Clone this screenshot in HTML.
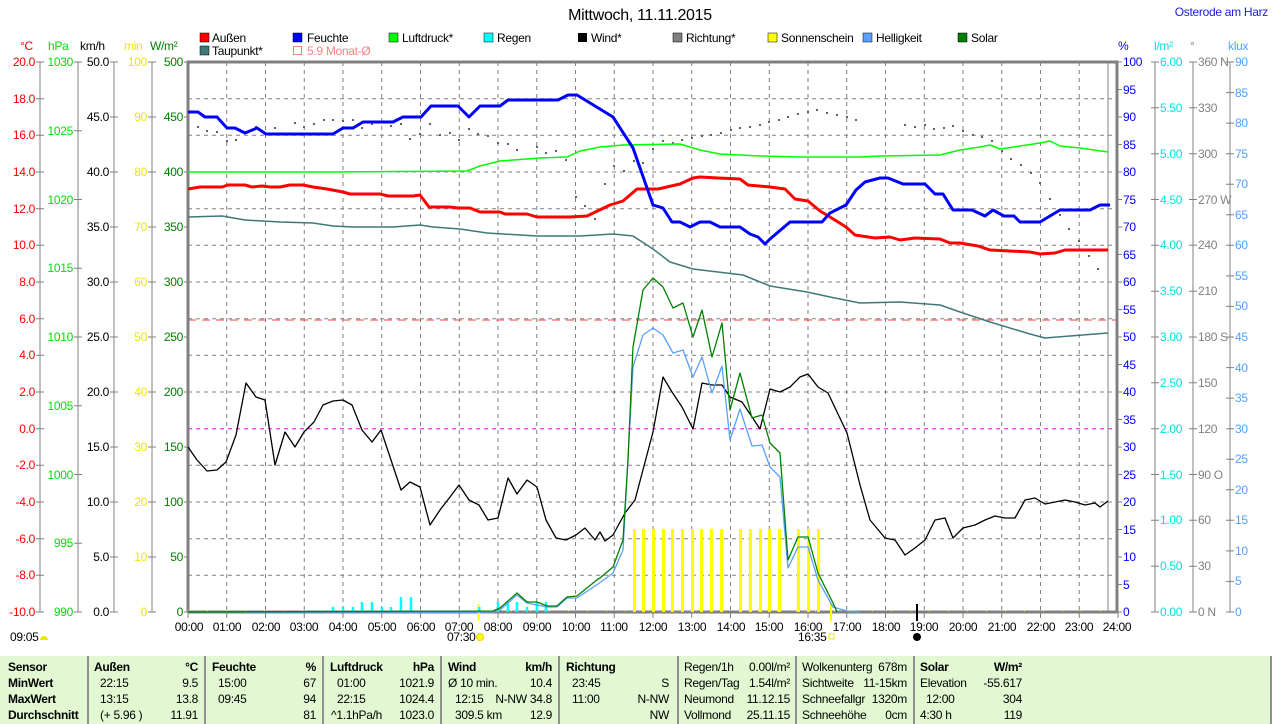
<!DOCTYPE html>
<html><head><meta charset="utf-8"><style>
html,body{margin:0;padding:0;background:#fff;}
body{width:1274px;height:724px;overflow:hidden;position:relative;font-family:"Liberation Sans",sans-serif;}
svg{position:absolute;left:0;top:0;}
svg text{letter-spacing:-0.3px;}
</style></head><body>
<svg width="1274" height="724" viewBox="0 0 1274 724" font-family="Liberation Sans, sans-serif" font-size="12">
<text x="640" y="20" font-size="16" text-anchor="middle" fill="#000">Mittwoch, 11.11.2015</text>
<text x="1268" y="16" font-size="12" text-anchor="end" fill="#2020e0">Osterode am Harz</text>
<g font-size="12" fill="#000">
<rect x="200" y="33" width="9" height="9" fill="#ff0000" stroke="#000" stroke-width="0.5"/><text x="212" y="42">Außen</text>
<rect x="293" y="33" width="9" height="9" fill="#0000ff" stroke="#000" stroke-width="0.5"/><text x="307" y="42">Feuchte</text>
<rect x="389" y="33" width="9" height="9" fill="#00ff00" stroke="#000" stroke-width="0.5"/><text x="402" y="42">Luftdruck*</text>
<rect x="484" y="33" width="9" height="9" fill="#00ffff" stroke="#000" stroke-width="0.5"/><text x="497" y="42">Regen</text>
<rect x="578" y="33" width="9" height="9" fill="#000"/><text x="591" y="42">Wind*</text>
<rect x="673" y="33" width="9" height="9" fill="#808080" stroke="#000" stroke-width="0.5"/><text x="686" y="42">Richtung*</text>
<rect x="768" y="33" width="9" height="9" fill="#ffff00" stroke="#000" stroke-width="0.5"/><text x="781" y="42">Sonnenschein</text>
<rect x="863" y="33" width="9" height="9" fill="#5aa0ff" stroke="#000" stroke-width="0.5"/><text x="876" y="42">Helligkeit</text>
<rect x="958" y="33" width="9" height="9" fill="#008000" stroke="#000" stroke-width="0.5"/><text x="971" y="42">Solar</text>
<rect x="200" y="46" width="9" height="9" fill="#407878" stroke="#000" stroke-width="0.5"/><text x="212" y="55">Taupunkt*</text>
<rect x="293.5" y="46.5" width="8" height="8" fill="none" stroke="#ff8080"/><text x="307" y="55" fill="#ff8080">5.9 Monat-Ø</text>
</g>
<g font-size="12">
<text x="20" y="50" fill="#ff0000">°C</text>
<text x="48" y="50" fill="#00e000">hPa</text>
<text x="80" y="50" fill="#000">km/h</text>
<text x="124" y="50" fill="#e8e800">min</text>
<text x="150" y="50" fill="#008000">W/m²</text>
<text x="1118" y="50" fill="#0000ff">%</text>
<text x="1154" y="50" fill="#00e0e0">l/m²</text>
<text x="1190" y="50" fill="#808080">°</text>
<text x="1228" y="50" fill="#50a0ff">klux</text>
</g>
<g stroke="#808080" stroke-width="1" stroke-dasharray="4,4" fill="none">
<path d="M226.75 62V612M265.5 62V612M304.25 62V612M343 62V612M381.75 62V612M420.5 62V612M459.25 62V612M498 62V612M536.75 62V612M575.5 62V612M614.25 62V612M653 62V612M691.75 62V612M730.5 62V612M769.25 62V612M808 62V612M846.75 62V612M885.5 62V612M924.25 62V612M963 62V612M1001.75 62V612M1040.5 62V612M1079.25 62V612"/>
<path d="M188 98.7H1117M188 135.3H1117M188 172H1117M188 208.7H1117M188 245.3H1117M188 282H1117M188 318.7H1117M188 355.3H1117M188 392H1117M188 465.3H1117M188 502H1117M188 538.7H1117M188 575.3H1117"/>
</g>
<line x1="188" y1="428.7" x2="1117" y2="428.7" stroke="#ff00ff" stroke-dasharray="4,4"/>
<line x1="188" y1="320" x2="1117" y2="320" stroke="#ff6060" stroke-dasharray="8,6" stroke-width="1.3"/>
<line x1="1108" y1="62" x2="1108" y2="612" stroke="#808080"/>
<path d="M188 612V62H1117V612H188" fill="none" stroke="#808080" stroke-width="3"/>
<g stroke="#808080" fill="none">
<path d="M40 62V612M36 62H44M36 98.7H44M36 135.3H44M36 172H44M36 208.7H44M36 245.3H44M36 282H44M36 318.7H44M36 355.3H44M36 392H44M36 428.7H44M36 465.3H44M36 502H44M36 538.7H44M36 575.3H44M36 612H44"/>
<path d="M78 62V612M74 62H82M74 130.75H82M74 199.5H82M74 268.25H82M74 337H82M74 405.75H82M74 474.5H82M74 543.25H82M74 612H82"/>
<path d="M114 62V612M110 62H118M110 117H118M110 172H118M110 227H118M110 282H118M110 337H118M110 392H118M110 447H118M110 502H118M110 557H118M110 612H118"/>
<path d="M152 62V612M148 62H156M148 117H156M148 172H156M148 227H156M148 282H156M148 337H156M148 392H156M148 447H156M148 502H156M148 557H156M148 612H156"/>
<path d="M184 62H188M184 117H188M184 172H188M184 227H188M184 282H188M184 337H188M184 392H188M184 447H188M184 502H188M184 557H188M184 612H188"/>
</g>
<g text-anchor="end" fill="#ff0000">
<text x="35" y="66">20.0</text><text x="35" y="103">18.0</text><text x="35" y="139">16.0</text><text x="35" y="176">14.0</text><text x="35" y="213">12.0</text><text x="35" y="249">10.0</text><text x="35" y="286">8.0</text><text x="35" y="323">6.0</text><text x="35" y="359">4.0</text><text x="35" y="396">2.0</text><text x="35" y="433">0.0</text><text x="35" y="469">-2.0</text><text x="35" y="506">-4.0</text><text x="35" y="543">-6.0</text><text x="35" y="579">-8.0</text><text x="35" y="616">-10.0</text>
</g>
<g text-anchor="end" fill="#00e000">
<text x="73" y="66">1030</text><text x="73" y="135">1025</text><text x="73" y="204">1020</text><text x="73" y="272">1015</text><text x="73" y="341">1010</text><text x="73" y="410">1005</text><text x="73" y="479">1000</text><text x="73" y="547">995</text><text x="73" y="616">990</text>
</g>
<g text-anchor="end" fill="#000">
<text x="109" y="66">50.0</text><text x="109" y="121">45.0</text><text x="109" y="176">40.0</text><text x="109" y="231">35.0</text><text x="109" y="286">30.0</text><text x="109" y="341">25.0</text><text x="109" y="396">20.0</text><text x="109" y="451">15.0</text><text x="109" y="506">10.0</text><text x="109" y="561">5.0</text><text x="109" y="616">0.0</text>
</g>
<g text-anchor="end" fill="#e8e800">
<text x="147" y="66">100</text><text x="147" y="121">90</text><text x="147" y="176">80</text><text x="147" y="231">70</text><text x="147" y="286">60</text><text x="147" y="341">50</text><text x="147" y="396">40</text><text x="147" y="451">30</text><text x="147" y="506">20</text><text x="147" y="561">10</text><text x="147" y="616">0</text>
</g>
<g text-anchor="end" fill="#008000">
<text x="183" y="66">500</text><text x="183" y="121">450</text><text x="183" y="176">400</text><text x="183" y="231">350</text><text x="183" y="286">300</text><text x="183" y="341">250</text><text x="183" y="396">200</text><text x="183" y="451">150</text><text x="183" y="506">100</text><text x="183" y="561">50</text><text x="183" y="616">0</text>
</g>
<g stroke="#808080" fill="none">
<path d="M1117 62H1122M1117 89.5H1122M1117 117H1122M1117 144.5H1122M1117 172H1122M1117 199.5H1122M1117 227H1122M1117 254.5H1122M1117 282H1122M1117 309.5H1122M1117 337H1122M1117 364.5H1122M1117 392H1122M1117 419.5H1122M1117 447H1122M1117 474.5H1122M1117 502H1122M1117 529.5H1122M1117 557H1122M1117 584.5H1122M1117 612H1122"/>
<path d="M1155 62V612M1151 62H1159M1151 107.8H1159M1151 153.7H1159M1151 199.5H1159M1151 245.3H1159M1151 291.2H1159M1151 337H1159M1151 382.8H1159M1151 428.7H1159M1151 474.5H1159M1151 520.3H1159M1151 566.2H1159M1151 612H1159"/>
<path d="M1193 62V612M1189 62H1197M1189 107.8H1197M1189 153.7H1197M1189 199.5H1197M1189 245.3H1197M1189 291.2H1197M1189 337H1197M1189 382.8H1197M1189 428.7H1197M1189 474.5H1197M1189 520.3H1197M1189 566.2H1197M1189 612H1197"/>
<path d="M1230 62V612M1226 62H1234M1226 92.6H1234M1226 123.1H1234M1226 153.7H1234M1226 184.2H1234M1226 214.8H1234M1226 245.3H1234M1226 275.9H1234M1226 306.4H1234M1226 337H1234M1226 367.6H1234M1226 398.1H1234M1226 428.7H1234M1226 459.2H1234M1226 489.8H1234M1226 520.3H1234M1226 550.9H1234M1226 581.4H1234M1226 612H1234"/>
</g>
<g fill="#0000ff">
<text x="1123" y="66">100</text><text x="1123" y="94">95</text><text x="1123" y="121">90</text><text x="1123" y="149">85</text><text x="1123" y="176">80</text><text x="1123" y="204">75</text><text x="1123" y="231">70</text><text x="1123" y="259">65</text><text x="1123" y="286">60</text><text x="1123" y="314">55</text><text x="1123" y="341">50</text><text x="1123" y="369">45</text><text x="1123" y="396">40</text><text x="1123" y="424">35</text><text x="1123" y="451">30</text><text x="1123" y="479">25</text><text x="1123" y="506">20</text><text x="1123" y="534">15</text><text x="1123" y="561">10</text><text x="1123" y="589">5</text><text x="1123" y="616">0</text>
</g>
<g fill="#00e0e0">
<text x="1160" y="66">6.00</text><text x="1160" y="112">5.50</text><text x="1160" y="158">5.00</text><text x="1160" y="204">4.50</text><text x="1160" y="249">4.00</text><text x="1160" y="295">3.50</text><text x="1160" y="341">3.00</text><text x="1160" y="387">2.50</text><text x="1160" y="433">2.00</text><text x="1160" y="479">1.50</text><text x="1160" y="524">1.00</text><text x="1160" y="570">0.50</text><text x="1160" y="616">0.00</text>
</g>
<g fill="#808080">
<text x="1198" y="66">360 N</text><text x="1198" y="112">330</text><text x="1198" y="158">300</text><text x="1198" y="204">270 W</text><text x="1198" y="249">240</text><text x="1198" y="295">210</text><text x="1198" y="341">180 S</text><text x="1198" y="387">150</text><text x="1198" y="433">120</text><text x="1198" y="479">90 O</text><text x="1198" y="524">60</text><text x="1198" y="570">30</text><text x="1198" y="616">0 N</text>
</g>
<g fill="#50a0ff">
<text x="1235" y="66">90</text><text x="1235" y="97">85</text><text x="1235" y="127">80</text><text x="1235" y="158">75</text><text x="1235" y="188">70</text><text x="1235" y="219">65</text><text x="1235" y="249">60</text><text x="1235" y="280">55</text><text x="1235" y="310">50</text><text x="1235" y="341">45</text><text x="1235" y="372">40</text><text x="1235" y="402">35</text><text x="1235" y="433">30</text><text x="1235" y="463">25</text><text x="1235" y="494">20</text><text x="1235" y="524">15</text><text x="1235" y="555">10</text><text x="1235" y="585">5</text><text x="1235" y="616">0</text>
</g>
<path d="M188 612V618M226.75 612V618M265.5 612V618M304.25 612V618M343 612V618M381.75 612V618M420.5 612V618M459.25 612V618M498 612V618M536.75 612V618M575.5 612V618M614.25 612V618M653 612V618M691.75 612V618M730.5 612V618M769.25 612V618M808 612V618M846.75 612V618M885.5 612V618M924.25 612V618M963 612V618M1001.75 612V618M1040.5 612V618M1079.25 612V618M1118 612V618" stroke="#808080"/>
<g text-anchor="middle" fill="#000">
<text x="189" y="631">00:00</text><text x="227" y="631">01:00</text><text x="266" y="631">02:00</text><text x="304" y="631">03:00</text><text x="343" y="631">04:00</text><text x="382" y="631">05:00</text><text x="421" y="631">06:00</text><text x="459" y="631">07:00</text><text x="498" y="631">08:00</text><text x="537" y="631">09:00</text><text x="576" y="631">10:00</text><text x="614" y="631">11:00</text><text x="653" y="631">12:00</text><text x="692" y="631">13:00</text><text x="731" y="631">14:00</text><text x="769" y="631">15:00</text><text x="808" y="631">16:00</text><text x="847" y="631">17:00</text><text x="886" y="631">18:00</text><text x="924" y="631">19:00</text><text x="963" y="631">20:00</text><text x="1002" y="631">21:00</text><text x="1041" y="631">22:00</text><text x="1079" y="631">23:00</text><text x="1117" y="631">24:00</text>
</g>
<text x="10" y="641">09:05</text>
<path d="M40 640a4 4 0 0 1 8 0z" fill="#e8e800"/>
<text x="447" y="641">07:30</text>
<circle cx="480" cy="637" r="3.5" fill="#ffff00" stroke="#f0d000"/>
<text x="798" y="641">16:35</text>
<rect x="829" y="634" width="5" height="5" fill="none" stroke="#e8e800"/>
<circle cx="917" cy="637" r="4" fill="#000"/>
<line x1="478.6" y1="604" x2="478.6" y2="621" stroke="#ffff00" stroke-width="2"/>
<line x1="831" y1="604" x2="831" y2="621" stroke="#ffff00" stroke-width="2"/>
<line x1="917" y1="604" x2="917" y2="621" stroke="#000" stroke-width="2"/>
<line x1="188" y1="611" x2="1108" y2="611" stroke="#e8e800" stroke-dasharray="1,18"/>
<g fill="#00ffff">
<rect x="331.7" y="607" width="2.5" height="5"/><rect x="341.7" y="607" width="2.5" height="5"/><rect x="351.7" y="607" width="2.5" height="5"/><rect x="360.7" y="602" width="2.5" height="10"/><rect x="370.7" y="602" width="2.5" height="10"/><rect x="380.7" y="607" width="2.5" height="5"/><rect x="389.7" y="607" width="2.5" height="5"/><rect x="399.7" y="597" width="2.5" height="15"/><rect x="409.7" y="597" width="2.5" height="15"/><rect x="478" y="607" width="2.5" height="5"/><rect x="496.7" y="602" width="2.5" height="10"/><rect x="506.7" y="602" width="2.5" height="10"/><rect x="515.7" y="602" width="2.5" height="10"/><rect x="525.7" y="607" width="2.5" height="5"/><rect x="535.7" y="602" width="2.5" height="10"/><rect x="544.7" y="602" width="2.5" height="10"/><rect x="662" y="607" width="2.5" height="5"/>
</g>
<g fill="#ffff00">
<rect x="633" y="529" width="3" height="83"/><rect x="642" y="529" width="3" height="83"/><rect x="652" y="529" width="3" height="83"/><rect x="662" y="529" width="3" height="83"/><rect x="671" y="529" width="3" height="83"/><rect x="681" y="529" width="3" height="83"/><rect x="691" y="529" width="3" height="83"/><rect x="700" y="529" width="3" height="83"/><rect x="710" y="529" width="3" height="83"/><rect x="720" y="529" width="3" height="83"/><rect x="739" y="529" width="3" height="83"/><rect x="749" y="529" width="3" height="83"/><rect x="759" y="529" width="3" height="83"/><rect x="768" y="529" width="3" height="83"/><rect x="778" y="529" width="3" height="83"/><rect x="797" y="529" width="3" height="83"/><rect x="807" y="529" width="3" height="83"/><rect x="817" y="529" width="3" height="83"/>
</g>
<g fill="#606060">
<rect x="197" y="126" width="2" height="2"/><rect x="206" y="130" width="2" height="2"/><rect x="216" y="131" width="2" height="2"/><rect x="226" y="140" width="2" height="2"/><rect x="235" y="139" width="2" height="2"/><rect x="245" y="131" width="2" height="2"/><rect x="255" y="126" width="2" height="2"/><rect x="274" y="127" width="2" height="2"/><rect x="294" y="122" width="2" height="2"/><rect x="303" y="126" width="2" height="2"/><rect x="313" y="123" width="2" height="2"/><rect x="323" y="119" width="2" height="2"/><rect x="332" y="119" width="2" height="2"/><rect x="342" y="120" width="2" height="2"/><rect x="352" y="119" width="2" height="2"/><rect x="361" y="127" width="2" height="2"/><rect x="371" y="123" width="2" height="2"/><rect x="381" y="121" width="2" height="2"/><rect x="390" y="125" width="2" height="2"/><rect x="400" y="123" width="2" height="2"/><rect x="409" y="138" width="2" height="2"/><rect x="419" y="133" width="2" height="2"/><rect x="429" y="123" width="2" height="2"/><rect x="439" y="134" width="2" height="2"/><rect x="449" y="132" width="2" height="2"/><rect x="458" y="139" width="2" height="2"/><rect x="468" y="128" width="2" height="2"/><rect x="477" y="133" width="2" height="2"/><rect x="487" y="135" width="2" height="2"/><rect x="497" y="142" width="2" height="2"/><rect x="507" y="143" width="2" height="2"/><rect x="516" y="149" width="2" height="2"/><rect x="536" y="146" width="2" height="2"/><rect x="545" y="152" width="2" height="2"/><rect x="555" y="150" width="2" height="2"/><rect x="565" y="159" width="2" height="2"/><rect x="575" y="196" width="2" height="2"/><rect x="584" y="205" width="2" height="2"/><rect x="594" y="218" width="2" height="2"/><rect x="604" y="183" width="2" height="2"/><rect x="613" y="165" width="2" height="2"/><rect x="623" y="170" width="2" height="2"/><rect x="633" y="160" width="2" height="2"/><rect x="642" y="162" width="2" height="2"/><rect x="652" y="148" width="2" height="2"/><rect x="662" y="140" width="2" height="2"/><rect x="672" y="142" width="2" height="2"/><rect x="681" y="139" width="2" height="2"/><rect x="691" y="137" width="2" height="2"/><rect x="701" y="135" width="2" height="2"/><rect x="710" y="134" width="2" height="2"/><rect x="720" y="132" width="2" height="2"/><rect x="730" y="129" width="2" height="2"/><rect x="739" y="127" width="2" height="2"/><rect x="749" y="126" width="2" height="2"/><rect x="759" y="124" width="2" height="2"/><rect x="768" y="121" width="2" height="2"/><rect x="778" y="119" width="2" height="2"/><rect x="787" y="116" width="2" height="2"/><rect x="797" y="113" width="2" height="2"/><rect x="807" y="111" width="2" height="2"/><rect x="816" y="109" width="2" height="2"/><rect x="826" y="112" width="2" height="2"/><rect x="836" y="114" width="2" height="2"/><rect x="846" y="116" width="2" height="2"/><rect x="855" y="119" width="2" height="2"/><rect x="904" y="124" width="2" height="2"/><rect x="914" y="126" width="2" height="2"/><rect x="924" y="124" width="2" height="2"/><rect x="933" y="128" width="2" height="2"/><rect x="943" y="127" width="2" height="2"/><rect x="952" y="125" width="2" height="2"/><rect x="962" y="130" width="2" height="2"/><rect x="972" y="134" width="2" height="2"/><rect x="981" y="136" width="2" height="2"/><rect x="991" y="140" width="2" height="2"/><rect x="1001" y="150" width="2" height="2"/><rect x="1010" y="158" width="2" height="2"/><rect x="1020" y="164" width="2" height="2"/><rect x="1030" y="172" width="2" height="2"/><rect x="1039" y="182" width="2" height="2"/><rect x="1049" y="198" width="2" height="2"/><rect x="1059" y="214" width="2" height="2"/><rect x="1068" y="228" width="2" height="2"/><rect x="1078" y="240" width="2" height="2"/><rect x="1088" y="255" width="2" height="2"/><rect x="1097" y="268" width="2" height="2"/>
</g>
<g fill="none" stroke-linejoin="round">
<polyline stroke="#407878" stroke-width="1.5" points="188,217 222,216 245,220 280,222 313,223 333,226 353,227 393,227 420,225 433,227 460,229 487,233 537,236 580,236 613,234 633,236 653,249 670,262 693,269 743,275 770,286 807,292 830,297 860,303 900,302 940,305 960,312 990,322 1030,334 1045,338 1070,336 1108,333"/>
<polyline stroke="#00ff00" stroke-width="1.5" points="188,172 327,172 467,171 480,166 500,161 540,158 567,157 580,151 600,147 623,145 680,144 700,150 720,154 760,156 800,157 860,157 880,156 940,155 960,150 980,147 990,145 1000,149 1040,143 1050,141 1060,146 1080,148 1108,152"/>
<polyline stroke="#ff0000" stroke-width="3" points="188,189 200,187 222,187 228,185 245,185 252,187 262,186 270,187 280,187 290,185 303,185 313,187 327,189 343,192 350,194 380,194 388,196 413,196 420,195 429,207 450,207 458,208 470,208 480,212 500,212 505,214 527,214 537,217 570,217 587,216 610,205 623,201 637,189 658,189 680,184 693,178 700,177 718,178 740,179 748,185 770,187 785,189 795,199 808,201 820,211 830,217 846,227 855,235 875,238 890,237 900,240 915,238 940,239 950,243 960,243 978,246 990,250 1030,252 1040,254 1055,253 1065,250 1108,250"/>
<polyline stroke="#0000ff" stroke-width="3" points="188,112 198,112 205,117 217,117 227,128 235,128 245,133 257,128 266,134 333,134 343,128 353,128 363,122 393,122 403,117 421,117 431,106 458,106 469,117 480,106 500,106 508,100 558,100 568,95 577,95 613,117 633,148 653,205 663,208 672,222 680,222 690,227 700,222 710,222 720,227 740,227 750,234 758,237 765,244 770,239 790,222 822,222 830,213 846,205 856,190 865,182 880,178 888,178 903,184 925,184 935,194 943,194 953,210 972,210 985,216 993,210 1004,216 1014,216 1020,222 1040,222 1060,210 1090,210 1100,205 1110,205"/>
<polyline stroke="#000" stroke-width="1.3" points="188,447 197,460 207,471 217,470 226,462 236,435 246,383 256,397 265,400 275,465 285,432 295,447 304,432 314,422 323,405 333,401 343,400 352,405 362,430 372,442 381,430 391,460 401,490 410,482 420,487 430,525 440,510 450,497 459,485 469,500 479,505 488,520 498,518 508,478 517,494 527,480 537,487 546,520 556,538 566,540 576,535 585,528 595,540 600,532 605,541 613,535 625,513 635,500 653,432 663,377 672,392 682,407 693,429 702,383 712,385 722,385 730,397 742,402 760,429 770,389 780,392 790,387 800,377 808,374 818,387 828,393 847,433 860,485 870,520 885,538 895,540 905,555 915,548 925,540 935,520 945,518 953,538 963,528 975,525 985,520 995,516 1005,518 1015,518 1025,500 1035,498 1045,504 1055,502 1065,500 1075,502 1085,505 1095,503 1100,507 1108,501"/>
<polyline stroke="#5aa0ff" stroke-width="1.3" points="188,612 492,612 500,610 517,595 527,603 547,607 557,607 567,598 577,598 598,584 613,573 623,550 633,367 643,335 653,328 663,335 673,353 683,350 693,377 702,357 712,393 722,366 730,440 740,409 752,446 762,445 770,467 780,477 788,568 798,547 808,547 818,580 833,607 847,611 860,612"/>
<polyline stroke="#008000" stroke-width="1.3" points="188,612 493,611 500,608 517,593 527,602 537,602 547,606 557,606 567,597 577,596 598,579 600,578 613,567 623,540 628,460 633,347 643,290 653,278 663,287 673,308 683,303 693,337 702,310 712,357 722,323 730,410 740,373 752,418 762,415 770,443 780,453 788,560 798,537 808,537 818,573 833,603 837,612"/>
</g>
<rect x="0" y="656" width="1271" height="68" fill="#e2f8d2"/>
<g stroke="#909090" stroke-width="2">
<line x1="88" y1="656" x2="88" y2="724"/><line x1="205" y1="656" x2="205" y2="724"/><line x1="323" y1="656" x2="323" y2="724"/><line x1="441" y1="656" x2="441" y2="724"/><line x1="559" y1="656" x2="559" y2="724"/><line x1="678" y1="656" x2="678" y2="724"/><line x1="796" y1="656" x2="796" y2="724"/><line x1="914" y1="656" x2="914" y2="724"/><line x1="1271" y1="656" x2="1271" y2="724"/>
</g>
<g font-size="12" fill="#000">
<g font-weight="bold">
<text x="8" y="671">Sensor</text><text x="8" y="687">MinWert</text><text x="8" y="703">MaxWert</text><text x="8" y="719">Durchschnitt</text>
<text x="94" y="671">Außen</text><text x="198" y="671" text-anchor="end">°C</text>
<text x="212" y="671">Feuchte</text><text x="316" y="671" text-anchor="end">%</text>
<text x="330" y="671">Luftdruck</text><text x="434" y="671" text-anchor="end">hPa</text>
<text x="448" y="671">Wind</text><text x="552" y="671" text-anchor="end">km/h</text>
<text x="566" y="671">Richtung</text>
<text x="920" y="671">Solar</text><text x="1022" y="671" text-anchor="end">W/m²</text>
</g>
<text x="100" y="687">22:15</text><text x="198" y="687" text-anchor="end">9.5</text>
<text x="100" y="703">13:15</text><text x="198" y="703" text-anchor="end">13.8</text>
<text x="100" y="719">(+ 5.96 )</text><text x="198" y="719" text-anchor="end">11.91</text>
<text x="218" y="687">15:00</text><text x="316" y="687" text-anchor="end">67</text>
<text x="218" y="703">09:45</text><text x="316" y="703" text-anchor="end">94</text>
<text x="316" y="719" text-anchor="end">81</text>
<text x="337" y="687">01:00</text><text x="434" y="687" text-anchor="end">1021.9</text>
<text x="337" y="703">22:15</text><text x="434" y="703" text-anchor="end">1024.4</text>
<text x="331" y="719">^1.1hPa/h</text><text x="434" y="719" text-anchor="end">1023.0</text>
<text x="448" y="687">Ø 10 min.</text><text x="552" y="687" text-anchor="end">10.4</text>
<text x="455" y="703">12:15</text><text x="552" y="703" text-anchor="end">N-NW 34.8</text>
<text x="455" y="719">309.5 km</text><text x="552" y="719" text-anchor="end">12.9</text>
<text x="572" y="687">23:45</text><text x="669" y="687" text-anchor="end">S</text>
<text x="572" y="703">11:00</text><text x="669" y="703" text-anchor="end">N-NW</text>
<text x="669" y="719" text-anchor="end">NW</text>
<text x="684" y="671">Regen/1h</text><text x="790" y="671" text-anchor="end">0.00l/m²</text>
<text x="684" y="687">Regen/Tag</text><text x="790" y="687" text-anchor="end">1.54l/m²</text>
<text x="684" y="703">Neumond</text><text x="790" y="703" text-anchor="end">11.12.15</text>
<text x="684" y="719">Vollmond</text><text x="790" y="719" text-anchor="end">25.11.15</text>
<text x="802" y="671">Wolkenunterg</text><text x="907" y="671" text-anchor="end">678m</text>
<text x="802" y="687">Sichtweite</text><text x="907" y="687" text-anchor="end">11-15km</text>
<text x="802" y="703">Schneefallgr</text><text x="907" y="703" text-anchor="end">1320m</text>
<text x="802" y="719">Schneehöhe</text><text x="907" y="719" text-anchor="end">0cm</text>
<text x="920" y="687">Elevation</text><text x="1022" y="687" text-anchor="end">-55.617</text>
<text x="926" y="703">12:00</text><text x="1022" y="703" text-anchor="end">304</text>
<text x="920" y="719">4:30 h</text><text x="1022" y="719" text-anchor="end">119</text>
</g>
</svg>
</body></html>
